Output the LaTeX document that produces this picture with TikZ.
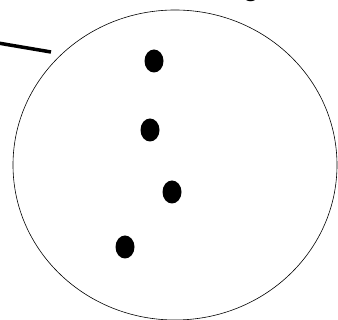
\documentclass[tikz,border=0pt]{standalone}
\usepackage{fontspec}
\setmainfont{Liberation Sans}
\usetikzlibrary{shapes.geometric, positioning, calc}
\tikzset{
  cell/.style  = {ellipse, draw, line width=0.6pt, minimum width=324pt, minimum height=310pt, inner sep=0pt},
  spot/.style  = {ellipse, fill=black, minimum width=19pt, minimum height=23pt, inner sep=0pt},
  pointer/.style = {line width=3.5pt},
}

\begin{document}
\begin{tikzpicture}[x=1pt, y=-1pt]
  \useasboundingbox (0,0) rectangle (338,320);

  % outline
  \node[cell] (cell) at (175,165) {};

  % spots inside
  \node[spot] (s1) at (154,61)  {};
  \node[spot] (s2) at (150,130) {};
  \node[spot] (s3) at (172,192) {};
  \node[spot] (s4) at (125,247) {};

  % label fragment at the top
  \node[font=\fontsize{30}{30}\selectfont, anchor=base] (lbl) at (251,-4) {g};

  % pointer line
  \coordinate (pstart) at (-2,43);
  \coordinate (pend) at (51,52);
  \draw[pointer] (pstart) -- (pend);

\end{tikzpicture}
\end{document}
